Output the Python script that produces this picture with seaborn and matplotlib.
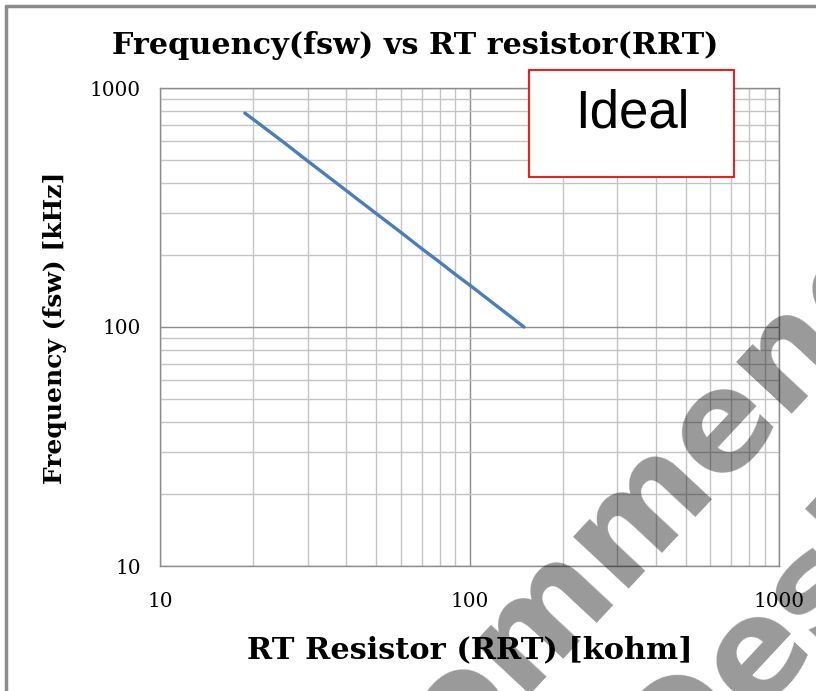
import matplotlib
matplotlib.use("Agg")
import matplotlib.pyplot as plt
from matplotlib.lines import Line2D
from matplotlib.patches import Rectangle
from matplotlib.ticker import FixedLocator, NullFormatter
import seaborn as sns

# values
rrt_kohm = [18.8, 20, 25, 30, 40, 50, 60, 70, 80, 90, 100, 120, 150]
fsw_khz = [785, 740, 595, 495, 372, 298, 249, 213, 187, 166, 150, 125, 100]

major_ticks = [10, 100, 1000]
tick_labels = ["10", "100", "1000"]
minor_ticks = [20, 30, 40, 50, 60, 70, 80, 90, 200, 300, 400, 500, 600, 700, 800, 900]

W, H = 816, 691


def fx(px):
    return px / W


def fy(py):
    return 1 - py / H


sns.set_theme(style="white")
plt.rcParams["font.family"] = ["DejaVu Serif"]
plt.rcParams["text.color"] = "black"

fig = plt.figure(figsize=(8.16, 6.91), dpi=100)
ax = fig.add_axes([fx(160), fy(566), fx(779) - fx(160), fy(88) - fy(566)])

sns.lineplot(x=rrt_kohm, y=fsw_khz, ax=ax, color="#4a7ebb", linewidth=2.4, zorder=3)

ax.set_xscale("log")
ax.set_yscale("log")
ax.set_xlim(10, 1000)
ax.set_ylim(10, 1000)

for axis in (ax.xaxis, ax.yaxis):
    axis.set_major_locator(FixedLocator(major_ticks))
    axis.set_minor_locator(FixedLocator(minor_ticks))
    axis.set_minor_formatter(NullFormatter())
ax.set_xticklabels(tick_labels)
ax.set_yticklabels(tick_labels)

ax.grid(True, which="major", color="#8c8c8c", linewidth=1.0, zorder=1)
ax.grid(True, which="minor", color="#c4c4c4", linewidth=1.0, zorder=1)
ax.tick_params(which="both", length=0, labelsize=14.4, labelcolor="black")
ax.tick_params(axis="x", pad=19)
ax.tick_params(axis="y", pad=14)
for s in ax.spines.values():
    s.set_color("#8c8c8c")
    s.set_linewidth(1.0)

fig.text(fx(415), fy(46), "Frequency(fsw) vs RT resistor(RRT)", ha="center", va="center",
         fontsize=21.8, fontweight="bold")
fig.text(fx(470), fy(650), "RT Resistor (RRT) [kohm]", ha="center", va="center",
         fontsize=21.9, fontweight="bold")
fig.text(fx(55), fy(328), "Frequency (fsw) [kHz]", ha="center", va="center",
         rotation=90, fontsize=18, fontweight="bold")

# "Ideal" box
fig.patches.append(Rectangle((fx(529), fy(177)), fx(734) - fx(529), fy(70) - fy(177),
                             transform=fig.transFigure, facecolor="white",
                             edgecolor="#ff0000", linewidth=1.3, zorder=5))
fig.text(fx(632), fy(113), "Ideal", ha="center", va="center", fontsize=38,
         family="Liberation Sans", zorder=6)

# watermark
wm = dict(rotation=47, rotation_mode="anchor", ha="center", va="baseline",
          fontsize=100, fontweight="bold", family="DejaVu Sans", color="black",
          alpha=0.4, zorder=10)
fig.text(fx(547), fy(677), "Not Recommended", **wm)
fig.text(fx(663), fy(817), "for New Designs", **wm)

# frame on the left and top edges
fig.add_artist(Line2D([fx(6), fx(6)], [0, fy(6)], color="#8c8c8c", linewidth=2.5))
fig.add_artist(Line2D([fx(6), 1], [fy(6), fy(6)], color="#8c8c8c", linewidth=2.5))

fig.savefig("out.png", dpi=100)
